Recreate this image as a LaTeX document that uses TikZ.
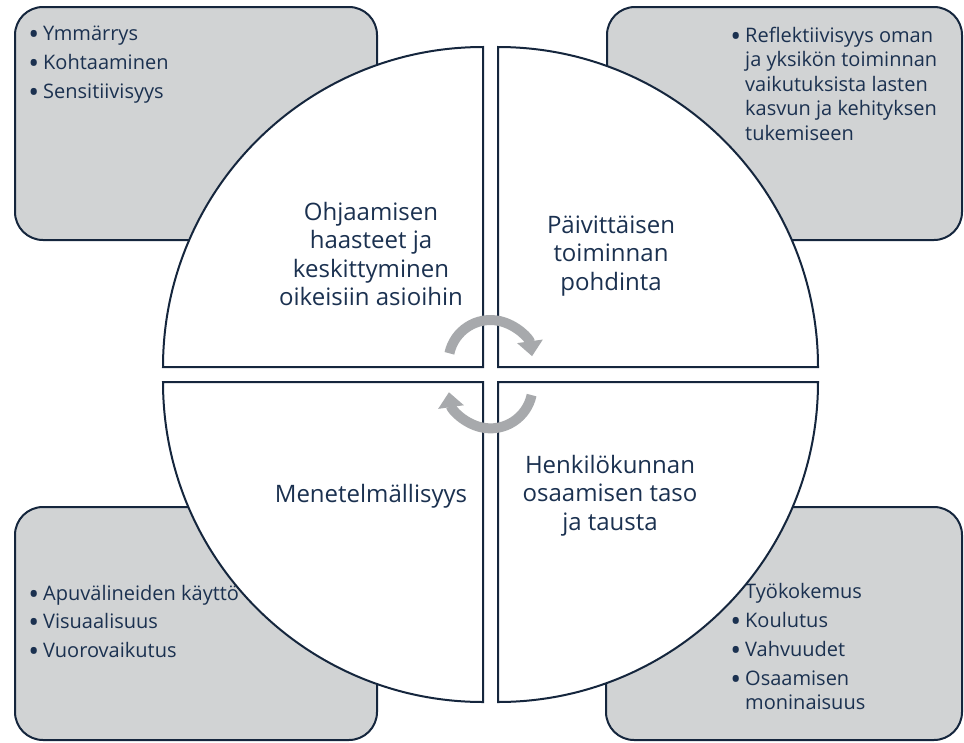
\documentclass[tikz,border=0pt]{standalone}
\usepackage{fontspec}
\usepackage{graphicx}
\setmainfont{Open Sans}
\usetikzlibrary{arrows.meta}
\definecolor{linenavy}{HTML}{15263D}
\definecolor{textnavy}{HTML}{1B3150}
\definecolor{boxgray}{HTML}{D1D3D4}
\definecolor{arrowgray}{HTML}{A7A9AC}
\newcommand\mybullet{\leavevmode\llap{\raisebox{-4pt}{\scalebox{1.45}{\textbullet}}\hspace{4pt}}}
\tikzset{
  sidebox/.style={fill=boxgray, draw=linenavy, line width=2pt, rounded corners=28pt},
  quad/.style={fill=white, draw=linenavy, line width=2pt},
  boxtext/.style={anchor=base west, inner sep=0pt, text=textnavy, font=\fontsize{20}{24.5}\selectfont},
  quadtext/.style={anchor=base, inner sep=0pt, text=textnavy, font=\fontsize{24}{28.5}\selectfont},
  cyclearrow/.style={draw=arrowgray, line width=10pt, -{Triangle[length=15pt,width=25pt]}},
}
\begin{document}
\begin{tikzpicture}[x=1pt,y=-1pt]
\useasboundingbox (0,0) rectangle (964,742);
% corner boxes
\draw[sidebox] (15,7) rectangle (377,240);
\draw[sidebox] (607,7) rectangle (962,240);
\draw[sidebox] (15,507) rectangle (377,740);
\draw[sidebox] (606,507) rectangle (962,740);
% box texts
\node[boxtext] (tltext) at (43,40) {\begin{minipage}[t]{300pt}\raggedright
\mybullet Ymmärrys\\[4.5pt]\mybullet Kohtaaminen\\[4.5pt]\mybullet Sensitiivisyys\end{minipage}};
\node[boxtext] (trtext) at (745,42) {\begin{minipage}[t]{300pt}\raggedright
\mybullet Reflektiivisyys oman\\ja yksikön toiminnan\\vaikutuksista lasten\\kasvun ja kehityksen\\tukemiseen\end{minipage}};
\node[boxtext] (bltext) at (43,600) {\begin{minipage}[t]{300pt}\raggedright
\mybullet Apuvälineiden käyttö\\[4pt]\mybullet Visuaalisuus\\[4pt]\mybullet Vuorovaikutus\end{minipage}};
\node[boxtext] (brtext) at (745,598) {\begin{minipage}[t]{300pt}\raggedright
\mybullet Työkokemus\\[4.5pt]\mybullet Koulutus\\[4.5pt]\mybullet Vahvuudet\\[4.5pt]\mybullet Osaamisen\\moninaisuus\end{minipage}};
% quadrants
\draw[quad] (483,367) -- (163,367) arc[start angle=180,end angle=270,radius=320] -- cycle;
\draw[quad] (498,367) -- (498,47) arc[start angle=270,end angle=360,radius=320] -- cycle;
\draw[quad] (498,382) -- (818,382) arc[start angle=0,end angle=90,radius=320] -- cycle;
\draw[quad] (483,382) -- (483,702) arc[start angle=90,end angle=180,radius=320] -- cycle;
% quadrant texts
\node[quadtext] (q1) at (371,220) {\begin{minipage}[t]{260pt}\centering
Ohjaamisen\\haasteet ja\\keskittyminen\\oikeisiin asioihin\end{minipage}};
\node[quadtext] (q2) at (611,233) {\begin{minipage}[t]{260pt}\centering
Päivittäisen\\toiminnan\\pohdinta\end{minipage}};
\node[quadtext] (q3) at (371,502) {Menetelmällisyys};
\node[quadtext] (q4) at (610,473) {\begin{minipage}[t]{260pt}\centering
Henkilökunnan\\osaamisen taso\\ja tausta\end{minipage}};
% cycle arrows
\draw[cyclearrow] (449.4,353.3) arc[start angle=192,end angle=352,radius=42];
\draw[cyclearrow] (531.6,395.1) arc[start angle=12,end angle=172,radius=42];
\end{tikzpicture}
\end{document}
